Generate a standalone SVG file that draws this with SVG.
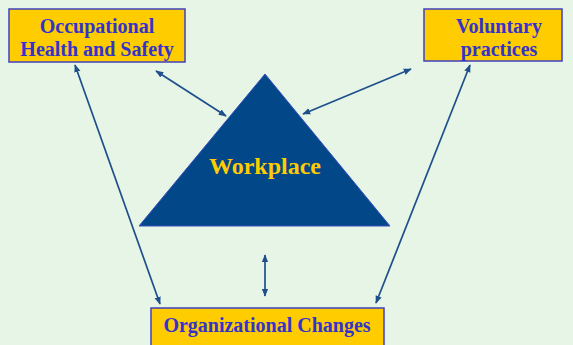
<svg xmlns="http://www.w3.org/2000/svg" width="573" height="345" viewBox="0 0 573 345">
<defs>
<marker id="ah" viewBox="0 0 10 10" refX="9" refY="5" markerWidth="8" markerHeight="8" orient="auto-start-reverse" markerUnits="userSpaceOnUse">
<path d="M0,1 L10,5 L0,9 z" fill="#1F4E8C"/>
</marker>
<style>
.box{fill:#FFCC00;stroke:#4040C0;stroke-width:1.5}
.bt{font-family:"Liberation Serif",serif;font-weight:bold;font-size:20px;fill:#3333CC;text-anchor:middle}
.conn{stroke:#1F4E8C;stroke-width:1.7;fill:none;marker-start:url(#ah);marker-end:url(#ah)}
</style>
</defs>
<rect width="573" height="345" fill="#E6F5E6"/>
<g id="ohs">
<rect class="box" x="9" y="9" width="176" height="53"/>
<text class="bt" x="97" y="33">Occupational</text>
<text class="bt" x="97" y="56">Health and Safety</text>
</g>
<g id="voluntary">
<rect class="box" x="424" y="9" width="138" height="52"/>
<text class="bt" x="499" y="33">Voluntary</text>
<text class="bt" x="499" y="56">practices</text>
</g>
<g id="workplace">
<polygon points="265,74 139,226 390,226" fill="#024788" stroke="#3a4fc0" stroke-width="1"/>
<text x="265" y="174" font-family="Liberation Serif,serif" font-weight="bold" font-size="24" fill="#FFCC00" text-anchor="middle">Workplace</text>
</g>
<g id="orgchanges">
<rect class="box" x="151" y="308" width="233" height="45"/>
<text class="bt" x="267" y="332">Organizational Changes</text>
</g>
<g id="connectors">
<line class="conn" x1="156" y1="71" x2="226" y2="116"/>
<line class="conn" x1="303" y1="114" x2="411" y2="69"/>
<line class="conn" x1="265" y1="255" x2="265" y2="296"/>
<line class="conn" x1="75" y1="65" x2="160" y2="304"/>
<line class="conn" x1="470" y1="65" x2="376" y2="303"/>
</g>
</svg>
